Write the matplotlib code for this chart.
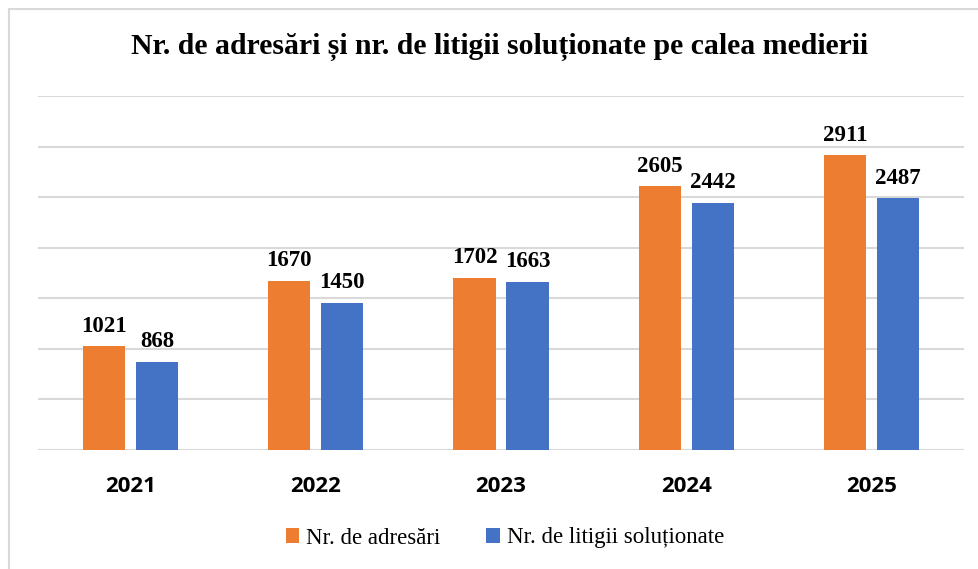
import matplotlib.pyplot as plt
import numpy as np
from matplotlib.patches import Rectangle

years = ["2021", "2022", "2023", "2024", "2025"]
adresari = [1021, 1670, 1702, 2605, 2911]
litigii = [868, 1450, 1663, 2442, 2487]
series_names = ["Nr. de adresări", "Nr. de litigii soluționate"]
title = "Nr. de adresări și nr. de litigii soluționate pe calea medierii"

orange = "#ed7d31"
blue = "#4472c4"
serif = ["Liberation Serif", "DejaVu Serif"]

fig = plt.figure(figsize=(9.79, 5.69), dpi=100)
fig.patches.append(Rectangle((9 / 979, -0.1), 1.1, 1 - 9 / 569 + 0.1, transform=fig.transFigure,
                             fill=False, edgecolor="#d9d9d9", linewidth=1.5))
ax = fig.add_axes([38 / 979, 1 - 449.5 / 569, (964 - 38) / 979, (449.5 - 96) / 569])

x = np.arange(len(years))
w = 0.227
off = 0.143
b1 = ax.bar(x - off, adresari, w, color=orange, label=series_names[0], zorder=3)
b2 = ax.bar(x + off, litigii, w, color=blue, label=series_names[1], zorder=3)

for bars in (b1, b2):
    ax.bar_label(bars, padding=7, fontsize=16.5, fontweight="bold", family=serif)

ax.set_xlim(-0.5, 4.5)
ax.set_ylim(0, 3500)
ax.set_yticks(np.arange(0, 3501, 500))
ax.yaxis.grid(True, color="#d9d9d9", linewidth=1.5, zorder=0)
ax.tick_params(axis="y", length=0, labelleft=False)
ax.tick_params(axis="x", length=0, pad=19)
ax.set_xticks(x)
ax.set_xticklabels(years, fontsize=16, fontweight="bold", family="Open Sans")
for s in ax.spines.values():
    s.set_visible(False)

fig.text(500 / 979, 1 - 47 / 569, title, ha="center", va="center", fontsize=21.4,
         fontweight="bold", family=serif)

fig.legend(handles=[b1, b2], loc="center", bbox_to_anchor=(505 / 979, 1 - 538 / 569), ncol=2,
           frameon=False, prop={"family": serif, "size": 16.5}, handlelength=0.6,
           handleheight=0.6, handletextpad=0.3, columnspacing=2.0)

fig.savefig("out.png", dpi=100)
